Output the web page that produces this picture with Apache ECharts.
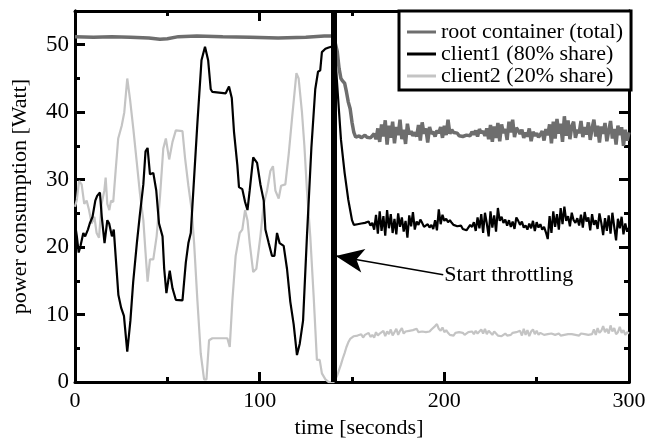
<!DOCTYPE html>
<html lang="en">
<head>
    <meta charset="UTF-8">
    <title>power consumption</title>
    <script src="https://cdn.jsdelivr.net/npm/echarts@6/dist/echarts.min.js"></script>
    <style>
        html, body { margin: 0; background: #fff; }
        #chart { width: 666px; height: 444px; }
    </style>
</head>
<body>
    <div id="chart"></div>
    <script>
        // legend names
        var names = ['root container (total)', 'client1 (80% share)', 'client2 (20% share)'];

        // before throttling: [time, watt] pairs
        var rootHead = [[0, 51.2], [10, 51.1], [20, 51.2], [30, 51.1], [40, 51.0], [46, 50.8], [50, 50.9],
            [56, 51.2], [66, 51.3], [80, 51.2], [95, 51.1], [110, 51.0], [125, 51.1], [135, 51.3], [140, 51.3]];

        var client1Head = [[0, 23.5], [1, 21.6], [2, 19.2], [3, 20.2], [4.5, 22.1], [5.5, 21.6], [7, 22.6], [8, 23.5],
            [9.5, 24.5], [11, 26.9], [12, 27.6], [13.5, 28.1], [14.5, 24.5], [16, 20.6], [17.5, 24.0], [18.5, 23.5],
            [20, 21.6], [21, 22.6], [22, 18.7], [23.5, 12.9], [25, 11.0], [26.5, 9.8], [28.3, 4.5], [30, 9.1],
            [31.5, 14.8], [33.5, 20.6], [35, 24.5], [37, 29.3], [38.2, 34.2], [39.3, 34.7], [40.6, 30.8], [42.4, 31.0],
            [44, 28.4], [45.5, 23.5], [47.4, 21.6], [48.3, 16.8], [49.5, 13.2], [51.3, 16.5], [52.8, 13.9], [54.6, 12.2],
            [58.2, 12.1], [60, 17.7], [61.4, 20.6], [62.7, 22.1], [64.5, 30.3], [66.3, 38.5], [68.5, 47.7], [70.4, 49.7],
            [72.1, 47.7], [73.5, 43.4], [74.4, 43.0], [78, 42.9], [81.6, 42.8], [83.4, 43.8], [84.9, 42.1], [86.1, 37.1],
            [87.9, 32.2], [88.8, 28.9], [90.6, 28.6], [92.1, 26.7], [93.4, 25.5], [94.6, 28.4], [96.5, 33.3], [98.6, 32.5],
            [100.4, 29.3], [102.2, 26.9], [103.1, 22.6], [104.9, 20.6], [106.7, 18.7], [108, 18.7], [109.4, 22.1],
            [110.8, 20.6], [113, 20.2], [114.8, 16.8], [116.6, 11.9], [118.4, 8.6], [120.2, 4.0], [121.7, 5.7],
            [123.5, 9.1], [125.6, 21.6], [128, 34.7], [130.1, 43.4], [131.6, 46.0], [132.8, 46.2], [133.7, 48.9],
            [135.6, 49.4], [137.4, 49.6], [140, 49.8]];

        var client2Head = [[0, 26.0], [1, 27.0], [2.2, 29.8], [3.6, 29.3], [5, 26.4], [6.3, 26.9], [7.6, 25.5], [9, 23.5],
            [10.5, 24.5], [11.7, 22.1], [13, 21.4], [14.4, 26.4], [15.9, 28.4], [16.6, 30.3], [17.5, 26.4], [18.6, 25.5],
            [19.5, 26.9], [20.7, 26.7], [22, 31.3], [23.4, 36.1], [25.3, 38.0], [26.7, 40.0], [28.3, 45.0], [29.8, 41.9],
            [31.6, 37.5], [33.4, 32.7], [35.2, 27.9], [37, 24.0], [38.2, 19.2], [39.3, 14.9], [40.6, 18.2], [42.4, 18.2],
            [44.2, 21.6], [46, 27.4], [47.8, 34.6], [49.2, 36.1], [51, 33.0], [52.8, 35.6], [54.6, 37.3], [58.2, 37.2],
            [59.6, 33.2], [61.4, 29.1], [63.2, 25.5], [64.5, 20.6], [66.3, 12.0], [68.1, 4.2], [69.9, 0.4], [71.2, 0.4],
            [72.6, 6.2], [74.4, 6.5], [82.5, 6.5], [83.8, 5.2], [85.2, 12.0], [87, 18.7], [89.2, 22.1], [90.6, 22.6],
            [92.1, 25.5], [93.4, 24.0], [94.6, 20.6], [96.5, 16.3], [98.2, 16.8], [100.4, 21.6], [102.2, 26.4], [104, 28.4],
            [105.8, 31.3], [107.2, 32.0], [108.5, 28.4], [110.3, 27.2], [111.6, 29.1], [113.9, 29.3], [115.7, 33.7],
            [117.5, 39.0], [119.9, 45.8], [121.1, 45.0], [122.9, 40.0], [124.2, 35.1], [125.6, 28.4], [127.4, 21.6],
            [129.2, 12.9], [131, 3.3], [132.5, 3.3], [133.7, 1.3], [135.6, 0.4], [137.4, 0], [140, 0]];

        // after throttling: one reading per second, from t = 141 to 300
        var tailStart = 141;

        var rootTail = [
            51.5, 49.0, 46.5, 45.0, 44.6, 44.3, 43.0, 41.5, 40.5, 38.5,
            37.0, 36.3, 36.4, 36.5, 36.2, 36.4, 36.6, 36.3, 36.5, 36.2,
            36.4, 36.8, 36.0, 37.6, 35.6, 38.2, 36.4, 38.8, 35.2, 38.0,
            36.2, 38.6, 35.4, 37.8, 36.6, 38.9, 36.0, 37.4, 35.3, 38.3,
            36.7, 37.2, 36.5, 37.0, 36.4, 38.1, 35.8, 38.5, 36.8, 37.6,
            35.5, 37.8, 36.8, 37.1, 36.4, 37.3, 36.9, 37.8, 36.2, 38.0,
            36.6, 38.9, 36.8, 37.4, 37.0, 36.8, 36.9, 36.5, 36.7, 36.4,
            36.3, 36.6, 36.8, 36.5, 37.1, 36.7, 37.3, 36.4, 37.5, 36.9,
            37.2, 36.5, 37.6, 36.0, 38.1, 35.6, 37.9, 36.2, 38.4, 35.7,
            38.2, 36.9, 37.5, 35.9, 38.6, 37.0, 38.9, 36.3, 37.7, 37.3,
            36.8, 37.4, 36.2, 37.0, 36.4, 37.6, 35.7, 37.1, 36.5, 36.9,
            36.3, 36.7, 37.2, 35.8, 37.5, 36.6, 38.2, 35.4, 38.6, 36.1,
            39.0, 36.8, 38.3, 35.6, 39.4, 36.5, 38.8, 36.0, 37.9, 38.6,
            36.2, 37.4, 36.9, 38.7, 36.3, 37.8, 36.7, 38.5, 35.9, 37.6,
            38.9, 36.4, 38.0, 35.5, 37.9, 36.8, 38.4, 35.7, 37.2, 38.7,
            36.1, 37.5, 35.2, 38.0, 36.6, 37.8, 35.0, 37.4, 35.8, 37.0];

        var client1Tail = [
            48.0, 44.0, 40.0, 36.0, 33.5, 31.0, 29.0, 27.0, 25.5, 24.0,
            23.3, 23.5, 23.4, 23.6, 23.5, 23.3, 23.6, 23.4, 23.8, 23.2,
            23.6, 22.6, 24.8, 22.0, 25.3, 22.4, 24.6, 21.7, 25.5, 22.8,
            24.9, 22.1, 24.2, 21.9, 25.0, 23.0, 24.4, 22.3, 23.9, 21.4,
            24.7, 23.1, 25.2, 22.6, 23.8, 23.3, 24.1, 23.6, 23.0, 22.8,
            23.4, 22.9, 23.3, 22.7, 24.0, 22.5, 25.6, 23.4, 24.8, 23.9,
            24.2, 23.7, 24.0, 23.6, 23.3, 23.5, 23.1, 22.9, 23.2, 22.7,
            22.8, 22.5, 22.9, 23.3, 23.0, 23.7, 22.4, 24.4, 22.8, 24.9,
            22.1, 25.1, 23.5, 21.6, 25.3, 22.9, 24.7, 22.3, 25.8, 23.9,
            24.5, 23.6, 24.1, 23.2, 24.0, 23.0, 23.8, 22.7, 24.4, 23.9,
            23.3, 23.8, 22.9, 23.2, 22.6, 23.5, 22.8, 23.9, 22.4, 23.7,
            22.9, 23.4, 22.6, 23.0, 22.2, 21.2, 24.6, 22.1, 25.3, 23.0,
            24.9, 22.6, 25.8, 23.4, 26.0, 23.9, 24.6, 23.1, 25.1, 24.0,
            23.6, 24.3, 23.2, 24.8, 22.9, 25.2, 23.8, 24.4, 22.5, 24.9,
            23.3, 24.0, 22.7, 25.0, 23.6, 21.8, 24.3, 22.4, 24.7, 22.0,
            25.1, 23.0, 21.0, 24.2, 22.8, 24.5, 21.9, 23.5, 22.3, 22.9];

        var client2Tail = [
            0.4, 1.0, 1.8, 2.6, 3.5, 4.3, 5.2, 5.9, 6.4, 6.6,
            6.8, 6.6, 6.9, 6.7, 7.1, 6.6, 7.0, 6.8, 7.3, 6.7,
            7.0, 6.6, 7.4, 6.9, 7.2, 7.0, 7.6, 6.8, 7.5, 7.1,
            7.8, 6.9, 7.4, 7.9, 7.0, 7.6, 8.0, 7.2, 7.5, 7.4,
            7.6, 7.5, 7.7, 7.6, 7.9, 7.4, 7.6, 7.5, 7.7, 7.4,
            7.6, 7.5, 7.8, 7.6, 8.3, 8.6, 7.9, 7.6, 8.1, 7.4,
            7.7, 7.3, 7.0, 7.2, 6.9, 7.3, 7.1, 7.4, 7.2, 7.3,
            7.0, 7.2, 7.4, 7.2, 7.5, 7.1, 7.6, 7.2, 7.3, 7.8,
            7.2, 7.9, 7.1, 7.6, 7.3, 7.0, 7.5, 7.2, 6.9, 7.1,
            6.8, 7.0, 7.2, 6.9, 7.1, 7.0, 7.3, 7.1, 7.4, 7.2,
            7.6, 6.9, 7.9, 7.0, 7.7, 6.8, 7.5, 7.8, 7.1, 7.6,
            7.0, 7.3, 7.1, 7.0, 7.2, 7.1, 7.0, 7.2, 7.1, 7.0,
            7.1, 7.2, 6.9, 7.1, 7.0, 7.2, 7.1, 7.0, 7.1, 7.2,
            7.0, 7.1, 6.9, 7.2, 7.0, 7.1, 6.9, 7.0, 7.2, 7.1,
            7.8, 7.0, 8.0, 7.3, 7.6, 8.3, 7.4, 7.9, 7.2, 8.4,
            7.5, 8.0, 7.1, 7.4, 8.2, 7.3, 7.7, 7.0, 7.4, 7.2];

        var throttleAt = 140;
        var arrowFrom = [199.4, 15.9];
        var arrowTo = [141.2, 18.7];

        var FONT = '"Liberation Serif", "Times New Roman", serif';

        function build(head, tail) {
            var pts = head.slice();
            for (var i = 0; i < tail.length; i++) {
                pts.push([tailStart + i, tail[i]]);
            }
            return pts;
        }

        function xAx(pos, labels) {
            return {
                type: 'value', position: pos, min: 0, max: 300, interval: 100,
                name: labels ? 'time [seconds]' : '', nameLocation: 'middle', nameGap: 29,
                nameTextStyle: { fontFamily: FONT, fontSize: 22, color: '#000', padding: [0, 0, 0, 14] },
                axisLine: { show: true, onZero: false, lineStyle: { color: '#000', width: 3 } },
                axisTick: { show: true, inside: true, length: 10, lineStyle: { color: '#000', width: 3 } },
                minorTick: { show: true, splitNumber: 2, length: 5, lineStyle: { color: '#000', width: 3 } },
                axisLabel: { show: labels, fontFamily: FONT, fontSize: 22, color: '#000', margin: 8 },
                splitLine: { show: false }
            };
        }

        function yAx(pos, interval, tickLen, labels) {
            return {
                type: 'value', position: pos, min: 0, max: 55, interval: interval,
                name: labels ? 'power consumption [Watt]' : '', nameLocation: 'middle', nameGap: 44,
                nameTextStyle: { fontFamily: FONT, fontSize: 22, color: '#000' },
                axisLine: { show: true, onZero: false, lineStyle: { color: '#000', width: 3 } },
                axisTick: { show: true, inside: true, length: tickLen, lineStyle: { color: '#000', width: 3 } },
                axisLabel: { show: labels, showMaxLabel: false, fontFamily: FONT, fontSize: 23, color: '#000', margin: 6 },
                splitLine: { show: false }
            };
        }

        var chart = echarts.init(document.getElementById('chart'));

        chart.setOption({
            animation: false,
            backgroundColor: '#fff',
            grid: { left: 75, right: 37, top: 11, bottom: 52 },
            xAxis: [xAx('bottom', true), xAx('top', false)],
            yAxis: [yAx('left', 10, 10, true), yAx('left', 5, 5, false), yAx('right', 10, 10, false), yAx('right', 5, 5, false)],
            legend: {
                left: 399, top: 11, orient: 'vertical', itemGap: 0, itemWidth: 29, itemHeight: 3, icon: 'rect',
                padding: [10, 8, 3, 8], borderColor: '#000', borderWidth: 3, backgroundColor: '#fff',
                textStyle: { fontFamily: FONT, fontSize: 22, color: '#000', lineHeight: 19 },
                data: names
            },
            series: [
                {
                    name: names[2], type: 'line', showSymbol: false, z: 2,
                    lineStyle: { color: '#c4c4c4', width: 2.2 }, itemStyle: { color: '#c4c4c4' },
                    data: build(client2Head, client2Tail),
                    markLine: {
                        silent: true, symbol: ['none', 'arrow'], symbolSize: [0, 24],
                        lineStyle: { color: '#000', width: 1.5, type: 'solid' },
                        label: {
                            show: true, position: 'start', distance: 1, formatter: 'Start throttling',
                            fontFamily: FONT, fontSize: 22, color: '#000'
                        },
                        data: [[{ coord: arrowFrom }, { coord: arrowTo, symbolSize: [18, 28] }]]
                    }
                },
                {
                    name: names[1], type: 'line', showSymbol: false, z: 3,
                    lineStyle: { color: '#000', width: 2.2 }, itemStyle: { color: '#000' },
                    data: build(client1Head, client1Tail)
                },
                {
                    name: names[0], type: 'line', showSymbol: false, z: 4,
                    lineStyle: { color: '#6e6e6e', width: 3.5 }, itemStyle: { color: '#6e6e6e' },
                    data: build(rootHead, rootTail),
                    markLine: {
                        silent: true, symbol: ['none', 'none'], label: { show: false },
                        lineStyle: { color: '#000', width: 6, type: 'solid' },
                        data: [{ xAxis: throttleAt }]
                    }
                }
            ]
        });
    </script>
</body>
</html>
